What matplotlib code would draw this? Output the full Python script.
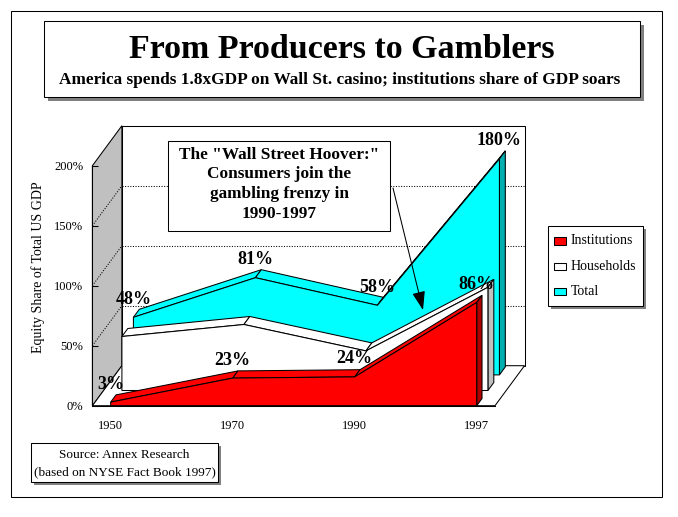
"""
From Producers to Gamblers - Excel style 3D area chart rebuilt in matplotlib.

The 3D look is an oblique projection: x = category index, y = percent,
depth d in [0, 1] shifts points up and to the right.
"""

import matplotlib
matplotlib.use('Agg')
import matplotlib.pyplot as plt
from matplotlib.patches import Polygon, Rectangle

plt.rcParams['font.family'] = ['Liberation Serif', 'DejaVu Serif']

# Data
years = ['1950', '1970', '1990', '1997']
institutions = [3, 23, 24, 86]
households = [45, 55, 33, 86]
total = [48, 81, 58, 180]
series_names = ['Institutions', 'Households', 'Total']
y_ticks = [0, 50, 100, 150, 200]

W, H = 678, 517
LW = 0.75

# projection: pixel position of category 0 / 0% on the front plane
X0, DXC = 110.7, 122.0   # px, px per category
Y0, SY = 405.7, 1.2      # px, px per percent
DDX = 29.5 / DXC         # depth shift in categories
DDY = 40.0 / SY          # depth shift in percent
XL, XR = -0.15, 3.15     # floor / wall extent in categories
YTOP = 200


def P(i, v, d):
    """Project (category, value, depth) onto the chart axes."""
    return (i + DDX * d, v + DDY * d)


fig = plt.figure(figsize=(W / 100, H / 100), dpi=100)
fig.patch.set_facecolor('white')

ax = fig.add_axes([0, 0, 1, 1])
ax.set_xlim((0 - X0) / DXC, (W - X0) / DXC)
ax.set_ylim((Y0 - H) / SY, Y0 / SY)
ax.patch.set_visible(False)
for s in ['top', 'right']:
    ax.spines[s].set_visible(False)
ax.spines['left'].set_position(('data', XL))
ax.spines['left'].set_bounds(0, YTOP)
ax.spines['bottom'].set_position(('data', 0))
ax.spines['bottom'].set_bounds(XL, XR)
for s in ['left', 'bottom']:
    ax.spines[s].set_linewidth(LW)

ax.set_yticks(y_ticks, labels=[f'{t}%' for t in y_ticks])
ax.set_xticks(range(len(years)), labels=years)
ax.tick_params(axis='y', direction='in', length=4.5, width=LW, pad=6.5, labelsize=9)
ax.tick_params(axis='x', length=0, pad=10, labelsize=9)


def poly(pts, fc, z, ls='-'):
    ax.add_patch(Polygon(pts, closed=True, fc=fc, ec='black', lw=LW, ls=ls, zorder=z))


# walls and floor
poly([P(XL, 0, 1), P(XR, 0, 1), P(XR, YTOP, 1), P(XL, YTOP, 1)], 'white', 1)
poly([P(XL, 0, 0), P(XL, 0, 1), P(XL, YTOP, 1), P(XL, YTOP, 0)], '#c0c0c0', 1)
poly([P(XL, 0, 0), P(XR, 0, 0), P(XR, 0, 1), P(XL, 0, 1)], 'white', 1)
for g in y_ticks[1:-1]:
    xs, ys = zip(P(XL, g, 1), P(XR, g, 1))
    ax.plot(xs, ys, color='black', lw=LW, ls=(0, (1, 1.5)), zorder=1.1)
    xs, ys = zip(P(XL, g, 0), P(XL, g, 1))
    ax.plot(xs, ys, color='black', lw=LW, ls=(0, (1, 1.5)), zorder=1.1)


def slab(vals, d0, d1, face, side, z):
    n = len(vals)
    for k in range(n - 1):
        poly([P(k, vals[k], d0), P(k + 1, vals[k + 1], d0),
              P(k + 1, vals[k + 1], d1), P(k, vals[k], d1)], face, z)
    poly([P(n - 1, 0, d0), P(n - 1, 0, d1),
          P(n - 1, vals[-1], d1), P(n - 1, vals[-1], d0)], side, z + 0.1)
    front = [P(0, 0, d0)] + [P(k, vals[k], d0) for k in range(n)] + [P(n - 1, 0, d0)]
    poly(front, face, z + 0.2)


slab(total, 0.77, 0.97, '#00ffff', '#00b0b0', 2)
slab(households, 0.38, 0.58, 'white', '#c0c0c0', 3)
slab(institutions, 0.0, 0.18, '#ff0000', '#b00000', 4)

# value labels
for vals, d0 in [(institutions, 0.0), (total, 0.77)]:
    for i, v in enumerate(vals):
        ax.annotate(f'{v}%', xy=P(i, v, d0), xytext=(0, 13), textcoords='offset points',
                    ha='center', va='center', fontsize=13, fontweight='bold', zorder=6)

fig.text(38 / W, 1 - 267 / H, 'Equity Share of Total US GDP', rotation=90,
         ha='center', va='center', fontsize=10)

# overlay in pixel coordinates for boxes and text
ov = fig.add_axes([0, 0, 1, 1])
ov.set_xlim(0, W)
ov.set_ylim(H, 0)
ov.axis('off')


def box(x0, y0, x1, y1, shadow=0):
    if shadow:
        ov.add_patch(Rectangle((x0 + shadow, y0 + shadow), x1 - x0, y1 - y0,
                               fc='#808080', ec='none', zorder=1))
    ov.add_patch(Rectangle((x0, y0), x1 - x0, y1 - y0, fc='white', ec='black',
                           lw=LW, zorder=2))


ov.add_patch(Rectangle((10.7, 10.7), 651.6, 486.3, fc='none', ec='black', lw=LW))

# title
box(44.3, 20.7, 640.3, 96.7, shadow=4)
ov.text(342.3, 58, 'From Producers to Gamblers', ha='center', va='baseline',
        fontsize=24.5, fontweight='bold', zorder=3)
ov.text(340, 84, 'America spends 1.8xGDP on Wall St. casino; institutions share of GDP soars',
        ha='center', va='baseline', fontsize=12.4, fontweight='bold', zorder=3)

# annotation
box(168.3, 140.7, 390, 231)
note = ['The "Wall Street Hoover:"', 'Consumers join the', 'gambling frenzy in', '1990-1997']
for k, line in enumerate(note):
    ov.text(279, 155 + 19.5 * k, line, ha='center', va='center', fontsize=12.4,
            fontweight='bold', zorder=3)
ov.annotate('', xy=(423, 310), xytext=(393, 188),
            arrowprops=dict(arrowstyle='-|>,head_length=1.15,head_width=0.4',
                            mutation_scale=10, lw=LW, color='black',
                            shrinkA=0, shrinkB=0), zorder=3)

# legend
box(547.7, 226, 642.7, 305.7, shadow=3)
for k, (name, c) in enumerate(zip(series_names, ['#ff0000', 'white', '#00ffff'])):
    yc = 241 + 25.2 * k
    ov.add_patch(Rectangle((554.3, yc - 3.6), 11.4, 7.3, fc=c, ec='black', lw=LW, zorder=3))
    ov.text(570.7, yc, name, ha='left', va='center', fontsize=10, zorder=3)

# source
box(30.6, 443, 218.3, 482, shadow=3)
ov.text(124.5, 455, 'Source: Annex Research', ha='center', va='center', fontsize=9.5, zorder=3)
ov.text(124.5, 472.5, '(based on NYSE Fact Book 1997)', ha='center', va='center',
        fontsize=9.5, zorder=3)

fig.savefig('out.png', dpi=100)
